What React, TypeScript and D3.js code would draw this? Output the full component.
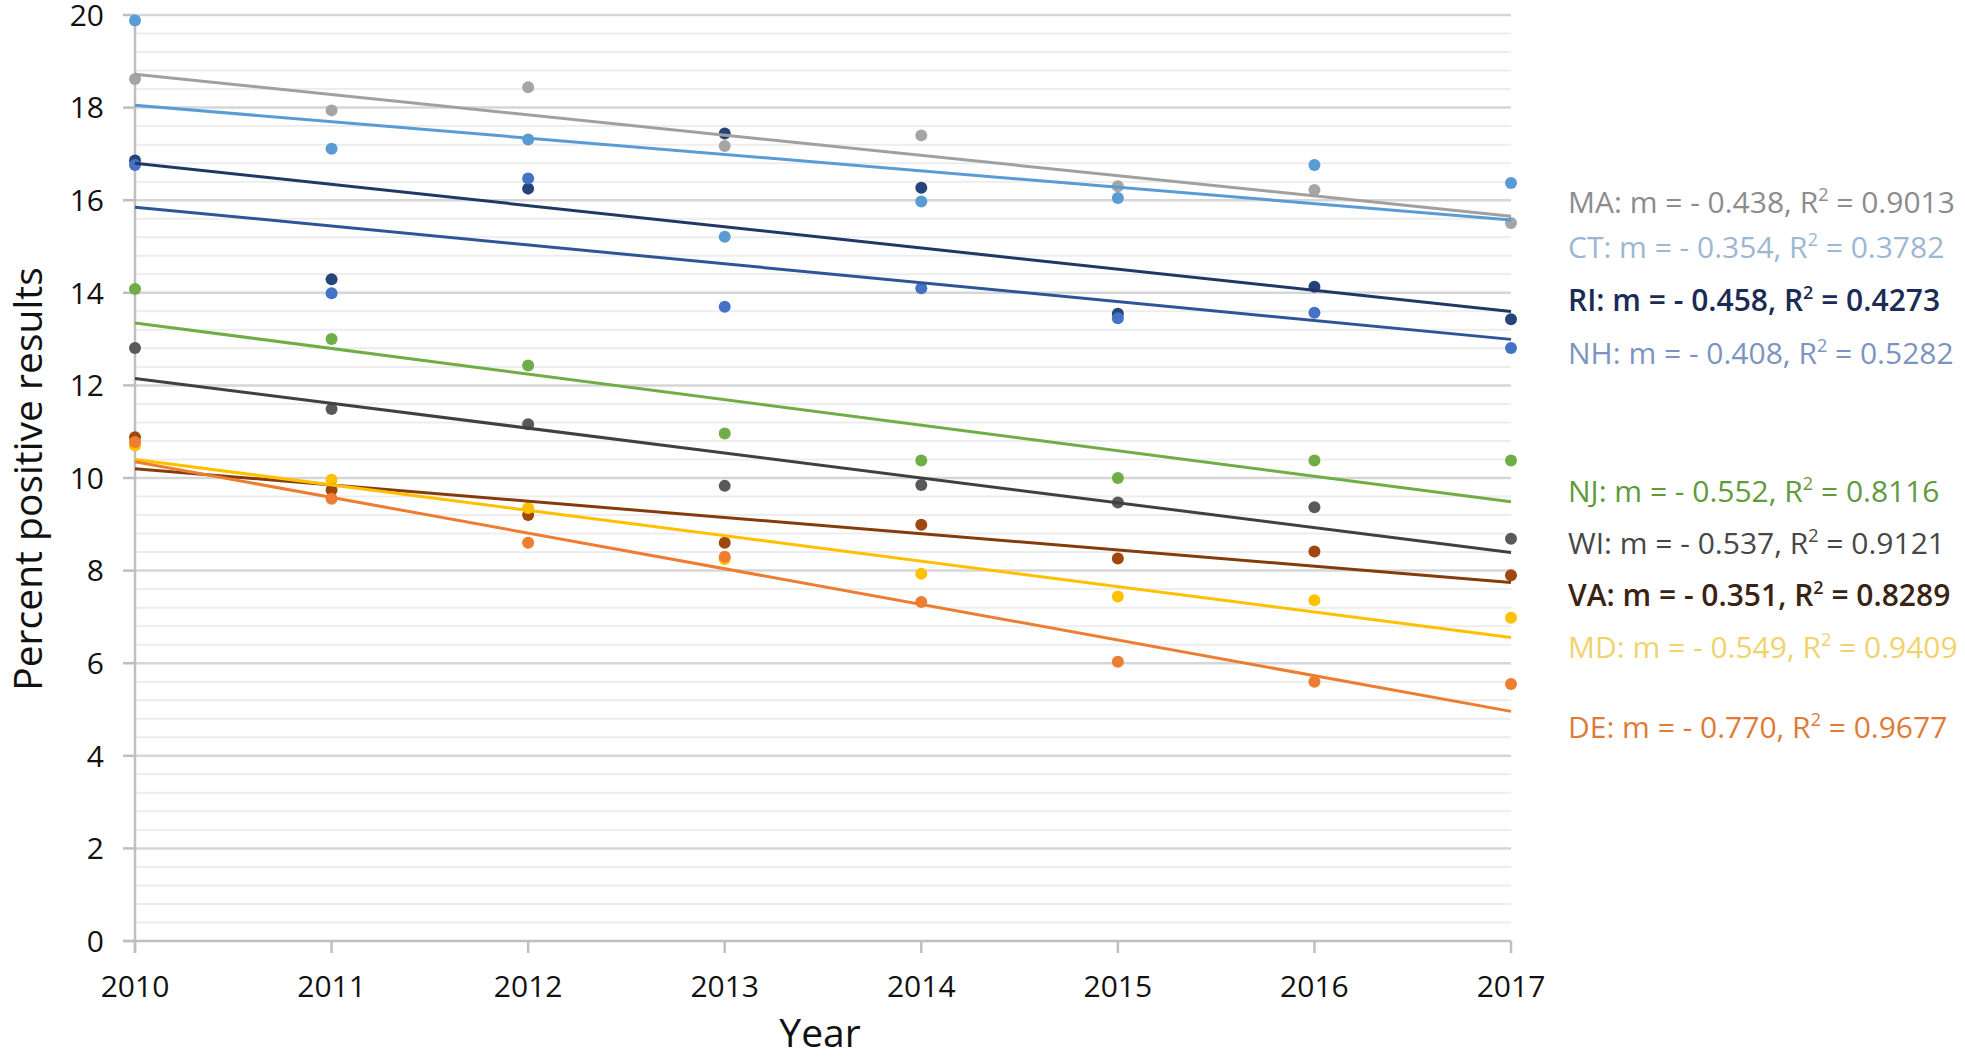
import React from 'react';
import * as d3 from 'd3';

const years = [2010, 2011, 2012, 2013, 2014, 2015, 2016, 2017];
const states = ['MA', 'CT', 'RI', 'NH', 'NJ', 'WI', 'VA', 'MD', 'DE'];

const maValues = [18.62, 17.94, 18.44, 17.17, 17.4, 16.3, 16.22, 15.51];
const ctValues = [19.88, 17.11, 17.31, 15.21, 15.97, 16.05, 16.76, 16.37];
const riValues = [16.86, 14.29, 16.25, 17.44, 16.27, 13.55, 14.13, 13.43];
const nhValues = [16.76, 13.99, 16.47, 13.7, 14.1, 13.45, 13.57, 12.81];
const njValues = [14.08, 13.0, 12.43, 10.96, 10.38, 10.0, 10.38, 10.38];
const wiValues = [12.81, 11.49, 11.16, 9.83, 9.85, 9.47, 9.37, 8.69];
const vaValues = [10.88, 9.74, 9.2, 8.6, 8.99, 8.26, 8.41, 7.9];
const mdValues = [10.7, 9.96, 9.35, 8.25, 7.93, 7.44, 7.36, 6.98];
const deValues = [10.78, 9.55, 8.6, 8.3, 7.32, 6.03, 5.6, 5.55];

const seriesValues = [maValues, ctValues, riValues, nhValues, njValues, wiValues, vaValues, mdValues, deValues];

// trendline slopes (from legend) and trend value at 2010
const slopes = [-0.438, -0.354, -0.458, -0.408, -0.552, -0.537, -0.351, -0.549, -0.77];
const trendAt2010 = [18.72, 18.05, 16.8, 15.85, 13.35, 12.15, 10.2, 10.4, 10.35];
const r2Labels = ['0.9013', '0.3782', '0.4273', '0.5282', '0.8116', '0.9121', '0.8289', '0.9409', '0.9677'];

const yMajorTicks = [0, 2, 4, 6, 8, 10, 12, 14, 16, 18, 20];

const pointColors = ['#a5a5a5', '#5b9bd5', '#264478', '#4472c4', '#70ad47', '#595959', '#9e480e', '#ffc000', '#ed7d31'];
const lineColors = ['#a0a0a0', '#5b9bd5', '#1f3864', '#2f5597', '#70ad47', '#404040', '#843c0c', '#ffc000', '#ed7d31'];
const labelColors = ['#8c8c8c', '#9db7d2', '#1c2b55', '#7c94bf', '#5f9a3b', '#474747', '#3a2312', '#f0d36c', '#df7a37'];
const labelWeights = [400, 400, 600, 400, 400, 400, 600, 400, 400];
const labelY = [213, 258, 311, 364, 502, 554, 606, 658, 738];

const FONT = "'Open Sans', 'Noto Sans', sans-serif";

export default function App() {
  const W = 1965;
  const H = 1060;
  const x = d3.scaleLinear().domain([2010, 2017]).range([135, 1511]);
  const y = d3.scaleLinear().domain([0, 20]).range([941, 15]);

  const minorTicks = d3.range(0, 20.0001, 0.4).filter((v) => Math.abs(v / 2 - Math.round(v / 2)) > 1e-6);

  const line = d3
    .line<[number, number]>()
    .x((d) => x(d[0]))
    .y((d) => y(d[1]));

  return (
    <svg
      width={W}
      height={H}
      style={{ position: 'absolute', left: 0, top: 0, display: 'block', background: '#fff' }}
      fontFamily={FONT}
    >
      {/* minor gridlines */}
      {minorTicks.map((v) => (
        <line key={'mi' + v} x1={x(2010)} x2={x(2017)} y1={y(v)} y2={y(v)} stroke="#ededed" strokeWidth={2} />
      ))}
      {/* major gridlines */}
      {yMajorTicks.map((v) =>
        v === 0 ? null : (
          <line key={'ma' + v} x1={x(2010)} x2={x(2017)} y1={y(v)} y2={y(v)} stroke="#d6d6d6" strokeWidth={2.5} />
        )
      )}
      {/* axes */}
      <line x1={x(2010)} x2={x(2010)} y1={y(20)} y2={y(0) + 12} stroke="#bfbfbf" strokeWidth={2.5} />
      <line x1={x(2010) - 12} x2={x(2017)} y1={y(0)} y2={y(0)} stroke="#bfbfbf" strokeWidth={2.5} />
      {yMajorTicks.map((v) => (
        <line key={'yt' + v} x1={x(2010) - 12} x2={x(2010)} y1={y(v)} y2={y(v)} stroke="#bfbfbf" strokeWidth={2.5} />
      ))}
      {years.map((yr) => (
        <line key={'xt' + yr} x1={x(yr)} x2={x(yr)} y1={y(0)} y2={y(0) + 12} stroke="#bfbfbf" strokeWidth={2.5} />
      ))}
      {/* tick labels */}
      {yMajorTicks.map((v) => (
        <text key={'yl' + v} x={104} y={y(v)} dy="0.36em" textAnchor="end" fontSize={30} fill="#111">
          {v}
        </text>
      ))}
      {years.map((yr) => (
        <text key={'xl' + yr} x={x(yr)} y={997} textAnchor="middle" fontSize={30} fill="#111">
          {yr}
        </text>
      ))}
      {/* axis titles */}
      <text x={820} y={1047} textAnchor="middle" fontSize={39} fill="#111">
        Year
      </text>
      <text transform={`translate(42,479) rotate(-90)`} textAnchor="middle" fontSize={39} fill="#111">
        Percent positive results
      </text>
      {/* points */}
      {seriesValues.map((vals, si) =>
        vals.map((v, i) => (
          <circle key={states[si] + i} cx={x(years[i])} cy={y(v)} r={6} fill={pointColors[si]} />
        ))
      )}
      {/* trendlines */}
      {states.map((s, si) => {
        const pts: [number, number][] = [
          [2010, trendAt2010[si]],
          [2017, trendAt2010[si] + slopes[si] * 7],
        ];
        return <path key={'tl' + s} d={line(pts) || ''} stroke={lineColors[si]} strokeWidth={3} fill="none" />;
      })}
      {/* equation labels */}
      {states.map((s, si) => (
        <text key={'lab' + s} x={1568} y={labelY[si]} fontSize={30} fill={labelColors[si]} fontWeight={labelWeights[si]}>
          {`${s}: m = - ${Math.abs(slopes[si]).toFixed(3)}, R`}
          <tspan fontSize={18} dy={-12}>
            2
          </tspan>
          <tspan dy={12}>{` = ${r2Labels[si]}`}</tspan>
        </text>
      ))}
    </svg>
  );
}
